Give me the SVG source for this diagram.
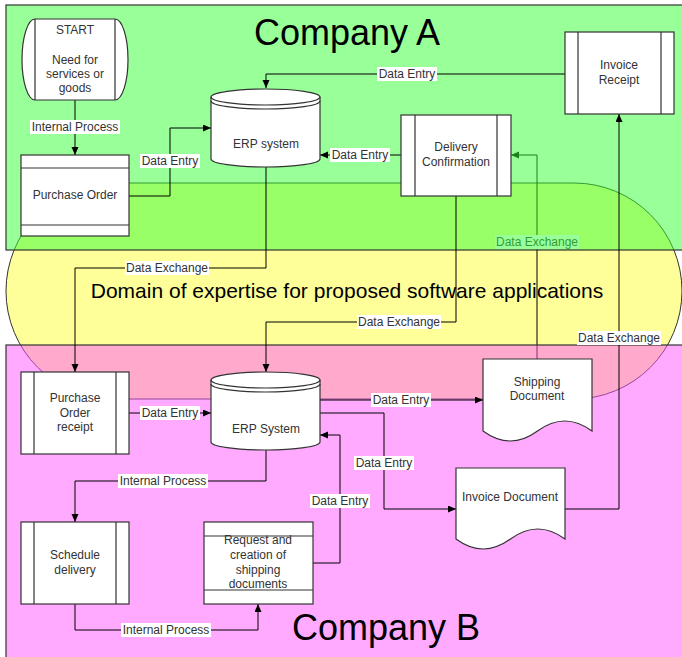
<svg xmlns="http://www.w3.org/2000/svg" width="682" height="657" viewBox="0 0 682 657">
<defs>
<marker id="arr" markerWidth="9" markerHeight="8" refX="8" refY="3.5" orient="auto" markerUnits="userSpaceOnUse">
<path d="M0,0 L8,3.5 L0,7 Z" fill="#000"/>
</marker>
<style>
.conn{fill:none;stroke:#000;stroke-width:1;marker-end:url(#arr)}
.lbg{fill:#fff}
.lbl{font-family:"Liberation Sans",Arial,sans-serif;font-size:12px;fill:#333;text-anchor:middle}
.node{fill:#fff;stroke:#333;stroke-width:1.2}
.ln{fill:none;stroke:#333;stroke-width:1.2}
.nt{font-family:"Liberation Sans",Arial,sans-serif;font-size:12px;fill:#333;text-anchor:middle}
.title{font-family:"Liberation Sans",Arial,sans-serif;fill:#000;text-anchor:middle}
</style>
</defs>
<rect width="682" height="657" fill="#fff"/>
<g id="domain">
<rect x="6" y="183" width="676" height="216" rx="108" ry="108" fill="#FFFF99" stroke="#333" stroke-width="1"/>
</g>
<g id="under-connectors">
<path class="conn" d="M537,359 V155 H511"/>
<rect class="lbg" x="495" y="235" width="84" height="14"/>
<text class="lbl" x="537" y="246">Data Exchange</text>
</g>
<g id="companyA">
<rect x="6" y="5" width="690" height="245" fill="#33FF33" fill-opacity="0.5" stroke="#333" stroke-width="1.2"/>
<text class="title" x="347" y="45" font-size="36">Company A</text>
</g>
<g id="companyB">
<rect x="6" y="345" width="690" height="330" fill="#FF55FF" fill-opacity="0.5" stroke="#333" stroke-width="1.2"/>
<text class="title" x="386" y="640" font-size="36">Company B</text>
</g>
<text class="title" x="347" y="298" font-size="21">Domain of expertise for proposed software applications</text>
<g id="connectors">
<path class="conn" d="M75,100 V155"/>
<path class="conn" d="M129,196 H170 V128 H211"/>
<path class="conn" d="M401,155 H320"/>
<path class="conn" d="M565,74 H266 V88"/>
<path class="conn" d="M266,167 V268 H75 V372"/>
<path class="conn" d="M456,196 V322 H266 V372"/>
<path class="conn" d="M129,413 H211"/>
<path class="conn" d="M320,400 H483"/>
<path class="conn" d="M320,413 H384 V509 H456"/>
<path class="conn" d="M313,563 H340 V435 H320"/>
<path class="conn" d="M565,509 H619 V114"/>
<path class="conn" d="M266,450 V481 H75 V522"/>
<path class="conn" d="M75,604 V630 H258 V604"/>
<rect class="lbg" x="30" y="120" width="90" height="14"/><text class="lbl" x="75" y="131">Internal Process</text>
<rect class="lbg" x="140" y="154" width="60" height="14"/><text class="lbl" x="170" y="165">Data Entry</text>
<rect class="lbg" x="330" y="148" width="60" height="14"/><text class="lbl" x="360" y="159">Data Entry</text>
<rect class="lbg" x="377" y="67" width="60" height="14"/><text class="lbl" x="407" y="78">Data Entry</text>
<rect class="lbg" x="125" y="261" width="84" height="14"/><text class="lbl" x="167" y="272">Data Exchange</text>
<rect class="lbg" x="357" y="315" width="84" height="14"/><text class="lbl" x="399" y="326">Data Exchange</text>
<rect class="lbg" x="140" y="406" width="60" height="14"/><text class="lbl" x="170" y="417">Data Entry</text>
<rect class="lbg" x="371" y="393" width="60" height="14"/><text class="lbl" x="401" y="404">Data Entry</text>
<rect class="lbg" x="354" y="456" width="60" height="14"/><text class="lbl" x="384" y="467">Data Entry</text>
<rect class="lbg" x="310" y="494" width="60" height="14"/><text class="lbl" x="340" y="505">Data Entry</text>
<rect class="lbg" x="577" y="331" width="84" height="14"/><text class="lbl" x="619" y="342">Data Exchange</text>
<rect class="lbg" x="118" y="474" width="90" height="14"/><text class="lbl" x="163" y="485">Internal Process</text>
<rect class="lbg" x="121" y="623" width="90" height="14"/><text class="lbl" x="166" y="634">Internal Process</text>
</g>
<g id="start">
<path class="node" d="M35,19 H115 A13,40.5 0 0 1 115,100 H35 A13,40.5 0 0 1 35,19 Z"/>
<path class="ln" d="M35,19 V100 M115,19 V100"/>
<text class="nt" x="75" y="34">START</text>
<text class="nt" x="75" y="64">Need for</text>
<text class="nt" x="75" y="78">services or</text>
<text class="nt" x="75" y="92">goods</text>
</g>
<g id="purchase-order">
<rect class="node" x="21" y="155" width="108" height="81"/>
<path class="ln" d="M21,168 H129 M21,225 H129"/>
<text class="nt" x="75" y="199">Purchase Order</text>
</g>
<g id="erp-a">
<path class="node" d="M211,97 A54.5,8 0 0 1 320,97 V159 A54.5,8 0 0 1 211,159 Z"/>
<path class="ln" d="M211,97 A54.5,8 0 0 0 320,97 M211,101 A54.5,8 0 0 0 320,101"/>
<text class="nt" x="266" y="148">ERP system</text>
</g>
<g id="delivery-confirmation">
<rect class="node" x="401" y="115" width="110" height="81"/>
<path class="ln" d="M415,115 V196 M497,115 V196"/>
<text class="nt" x="456" y="151">Delivery</text>
<text class="nt" x="456" y="166">Confirmation</text>
</g>
<g id="invoice-receipt">
<rect class="node" x="565" y="32" width="109" height="82"/>
<path class="ln" d="M578,32 V114 M661,32 V114"/>
<text class="nt" x="619" y="69">Invoice</text>
<text class="nt" x="619" y="84">Receipt</text>
</g>
<g id="po-receipt">
<rect class="node" x="21" y="372" width="108" height="82"/>
<path class="ln" d="M34,372 V454 M116,372 V454"/>
<text class="nt" x="75" y="402">Purchase</text>
<text class="nt" x="75" y="417">Order</text>
<text class="nt" x="75" y="431">receipt</text>
</g>
<g id="erp-b">
<path class="node" d="M211,380 A54.5,8 0 0 1 320,380 V442 A54.5,8 0 0 1 211,442 Z"/>
<path class="ln" d="M211,380 A54.5,8 0 0 0 320,380 M211,384 A54.5,8 0 0 0 320,384"/>
<text class="nt" x="266" y="433">ERP System</text>
</g>
<g id="shipping-document">
<path class="node" d="M483,359 H592 V431 Q564.75,411 537.5,431 T483,431 Z"/>
<text class="nt" x="537" y="386">Shipping</text>
<text class="nt" x="537" y="400">Document</text>
</g>
<g id="invoice-document">
<path class="node" d="M456,468 H565 V539 Q537.75,519 510.5,539 T456,539 Z"/>
<text class="nt" x="510" y="501">Invoice Document</text>
</g>
<g id="schedule-delivery">
<rect class="node" x="21" y="522" width="108" height="82"/>
<path class="ln" d="M34,522 V604 M116,522 V604"/>
<text class="nt" x="75" y="559">Schedule</text>
<text class="nt" x="75" y="574">delivery</text>
</g>
<g id="request-shipping">
<rect class="node" x="204" y="522" width="109" height="82"/>
<path class="ln" d="M204,536 H313 M204,590 H313"/>
<text class="nt" x="258" y="544">Request and</text>
<text class="nt" x="258" y="559">creation of</text>
<text class="nt" x="258" y="574">shipping</text>
<text class="nt" x="258" y="588">documents</text>
</g>
</svg>
